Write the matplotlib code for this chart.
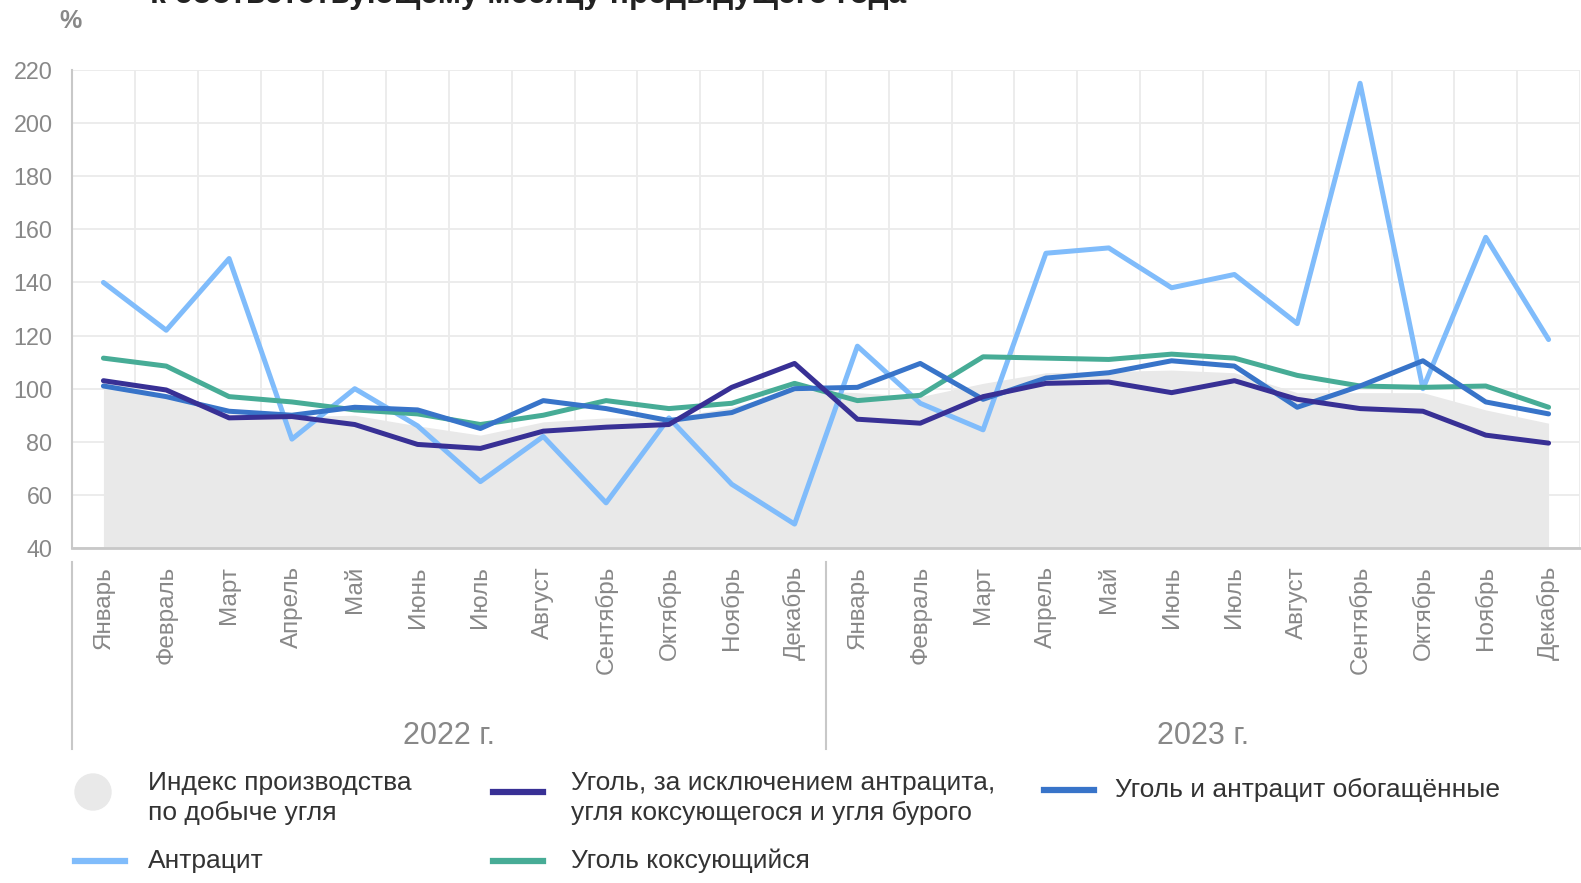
import matplotlib.pyplot as plt
from matplotlib.lines import Line2D
from matplotlib.patches import Ellipse
import matplotlib.transforms as mtransforms

plt.rcParams['font.family'] = ['Liberation Sans', 'DejaVu Sans']

# месяцы
months = ["Январь", "Февраль", "Март", "Апрель", "Май", "Июнь", "Июль", "Август",
          "Сентябрь", "Октябрь", "Ноябрь", "Декабрь"]
labels = months + months
years = ["2022 г.", "2023 г."]

# индекс производства по добыче угля (серая область)
index_total = [104, 97, 90.5, 89.5, 90, 86, 82.5, 87.5, 89, 89, 93, 99.5,
               98.5, 97, 102, 106, 106.5, 107, 106, 98.5, 98.5, 98.5, 92, 87]
# антрацит
anthracite = [140, 122, 149, 81, 100, 86, 65, 82, 57, 89, 64, 49,
              116, 94.5, 84.5, 151, 153, 138, 143, 124.5, 215, 100, 157, 118.5]
# уголь, за исключением антрацита, коксующегося и бурого
coal_excl = [103, 99.5, 89, 89.5, 86.5, 79, 77.5, 84, 85.5, 86.5, 100.5, 109.5,
             88.5, 87, 97, 102, 102.5, 98.5, 103, 96, 92.5, 91.5, 82.5, 79.5]
# уголь и антрацит обогащённые
enriched = [101, 97, 91.5, 90, 93, 92, 85, 95.5, 92.5, 88, 91, 100,
            100.5, 109.5, 96, 104, 106, 110.5, 108.5, 93, 101, 110.5, 95, 90.5]
# уголь коксующийся
coking = [111.5, 108.5, 97, 95, 92, 90.5, 86.5, 90, 95.5, 92.5, 94.5, 102,
          95.5, 97.5, 112, 111.5, 111, 113, 111.5, 105, 101, 100.5, 101, 93]

c_grey = '#e9e9e9'
c_anth = '#80bcfb'
c_navy = '#383095'
c_blue = '#3874c9'
c_green = '#47ac96'
c_text = '#888888'

fig = plt.figure(figsize=(15.81, 8.83), dpi=100)
ax = fig.add_axes([72 / 1581, 1 - 548 / 883, 1508 / 1581, 478 / 883])

x = list(range(len(labels)))
ax.fill_between(x, 40, index_total, color=c_grey, lw=0, zorder=1)
ax.plot(x, anthracite, color=c_anth, lw=3.6, zorder=2, solid_capstyle='round')
ax.plot(x, coking, color=c_green, lw=3.6, zorder=3, solid_capstyle='round')
ax.plot(x, enriched, color=c_blue, lw=3.6, zorder=4, solid_capstyle='round')
ax.plot(x, coal_excl, color=c_navy, lw=3.6, zorder=5, solid_capstyle='round')

ax.set_xlim(-0.5, len(labels) - 0.5)
ax.set_ylim(40, 220)
ax.set_yticks(range(40, 221, 20))
ax.set_xticks(x)
ax.set_xticklabels(labels, rotation=90, va='top', ha='center')
ax.set_xticks([i + 0.5 for i in range(-1, len(labels))], minor=True)
ax.tick_params(axis='x', which='both', length=0, pad=13, labelsize=17.5, labelcolor=c_text)
ax.tick_params(axis='y', length=0, pad=14, labelsize=16.8, labelcolor=c_text)
ax.set_axisbelow(True)
ax.grid(axis='y', which='major', color='#ebebeb', lw=1.3)
ax.grid(axis='x', which='minor', color='#ebebeb', lw=1.3)
for s in ['top', 'right']:
    ax.spines[s].set_visible(False)
ax.spines['left'].set_color('#c8c8c8')
ax.spines['left'].set_linewidth(1.5)
ax.spines['bottom'].set_color('#c8c8c8')
ax.spines['bottom'].set_linewidth(2)

# разделители лет и подписи
tr = mtransforms.blended_transform_factory(ax.transData, ax.transAxes)
for xs in [-0.5, 11.5]:
    ax.add_line(Line2D([xs, xs], [-0.03, -0.42], transform=tr, color='#c8c8c8',
                       lw=1.5, clip_on=False))
ax.text(5.5, -0.393, years[0], transform=tr, ha='center', va='center',
        fontsize=22, color=c_text)
ax.text(17.5, -0.393, years[1], transform=tr, ha='center', va='center',
        fontsize=22, color=c_text)

# заголовок (обрезан сверху) и единицы
fig.text(150 / 1581, 1 - 3 / 883, "к соответствующему месяцу предыдущего года",
         ha='left', va='baseline', fontsize=22.8, fontweight='bold', color='#222222')
fig.text(71 / 1581, 1 - 21 / 883, "%", ha='center', va='center',
         fontsize=18, fontweight='bold', color=c_text)

# легенда
leg_fs = 19
def fx(px):
    return px / 1581
def fy(py):
    return 1 - py / 883

fig.add_artist(Ellipse((fx(93), fy(792)), 36 / 1581, 36 / 883, color=c_grey,
                       transform=fig.transFigure))
fig.text(fx(148), fy(798), "Индекс производства\nпо добыче угля", ha='left',
         va='center', fontsize=leg_fs, color='#333333', linespacing=1.35)

legend_lines = [
    (493, 792, c_navy, 571, "Уголь, за исключением антрацита,\nугля коксующегося и угля бурого"),
    (1044, 790, c_blue, 1115, "Уголь и антрацит обогащённые"),
    (75, 861, c_anth, 148, "Антрацит"),
    (493, 861, c_green, 571, "Уголь коксующийся"),
]
for hx, hy, col, tx, txt in legend_lines:
    fig.add_artist(Line2D([fx(hx), fx(hx + 50)], [fy(hy), fy(hy)], color=col, lw=4.5,
                          transform=fig.transFigure))
    ty = 798 if '\n' in txt else hy
    fig.text(fx(tx), fy(ty), txt, ha='left', va='center', fontsize=leg_fs,
             color='#333333', linespacing=1.35)

fig.savefig("out.png", dpi=100)
